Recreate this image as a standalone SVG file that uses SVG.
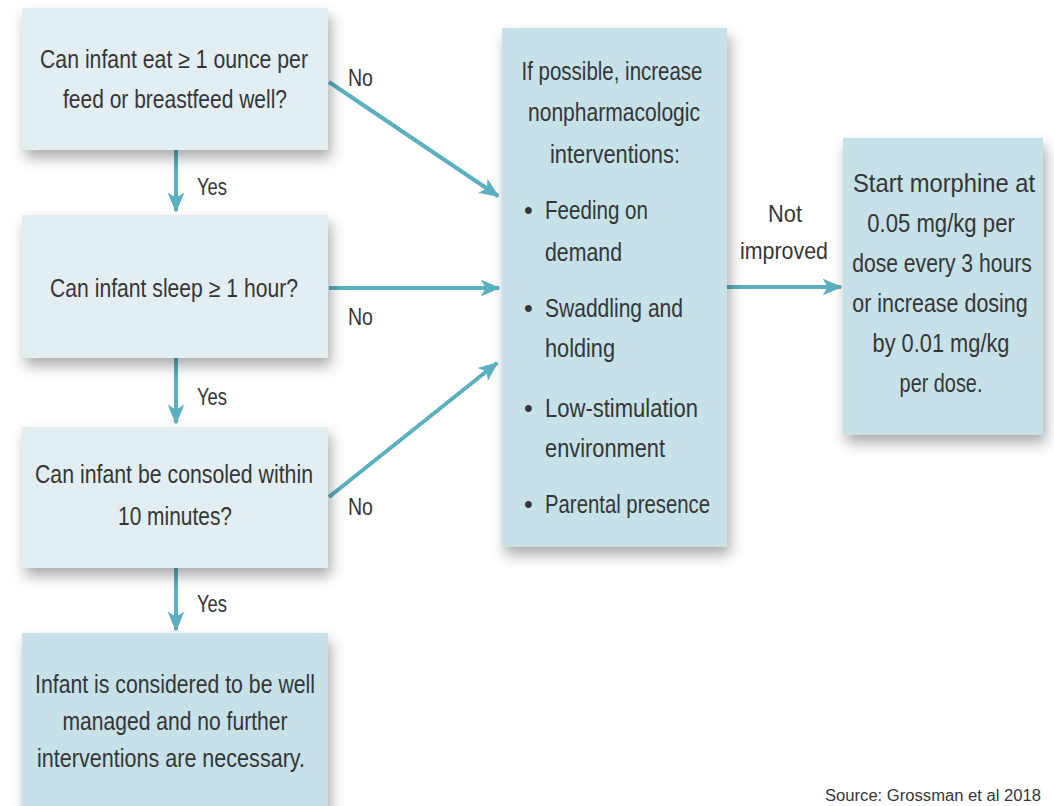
<svg xmlns="http://www.w3.org/2000/svg" width="1054" height="806" viewBox="0 0 1054 806">
<style>
text{font-family:"Liberation Sans",Arial,sans-serif;fill:#363636;font-size:25px}
.c{text-anchor:middle}
.light{fill:#e3eef2}
.dark{fill:#c6e1e8}
.ar{stroke:#5aafc0;stroke-width:4;fill:none}
.lbl{font-size:24px}
.src{font-size:16px}
</style>
<defs>
<filter id="sh" x="-20%" y="-20%" width="140%" height="150%">
<feDropShadow dx="3" dy="8" stdDeviation="7" flood-color="#000" flood-opacity="0.33"/>
</filter>
<marker id="ah" viewBox="0 0 12 10" refX="11" refY="5" markerWidth="5" markerHeight="5" markerUnits="strokeWidth" orient="auto">
<path d="M0,0 L12,5 L0,10 L3,5 z" fill="#5aafc0"/>
</marker>
</defs>
<rect width="1054" height="806" fill="#fff"/>
<g id="connectors">
<line class="ar" x1="176" y1="150" x2="176" y2="211" marker-end="url(#ah)"/>
<line class="ar" x1="176" y1="358" x2="176" y2="423" marker-end="url(#ah)"/>
<line class="ar" x1="176" y1="568" x2="176" y2="630" marker-end="url(#ah)"/>
<line class="ar" x1="329" y1="82" x2="498" y2="196" marker-end="url(#ah)"/>
<line class="ar" x1="329" y1="288" x2="499" y2="288" marker-end="url(#ah)"/>
<line class="ar" x1="329" y1="497" x2="497" y2="363" marker-end="url(#ah)"/>
<line class="ar" x1="727" y1="287" x2="841" y2="287" marker-end="url(#ah)"/>
<text class="lbl" x="197" y="195" textLength="30" lengthAdjust="spacingAndGlyphs">Yes</text>
<text class="lbl" x="197" y="405" textLength="30" lengthAdjust="spacingAndGlyphs">Yes</text>
<text class="lbl" x="197" y="612" textLength="30" lengthAdjust="spacingAndGlyphs">Yes</text>
<text class="lbl" x="348" y="86" textLength="25" lengthAdjust="spacingAndGlyphs">No</text>
<text class="lbl" x="348" y="325" textLength="25" lengthAdjust="spacingAndGlyphs">No</text>
<text class="lbl" x="348" y="515" textLength="25" lengthAdjust="spacingAndGlyphs">No</text>
<text class="lbl c" x="785" y="222" textLength="34" lengthAdjust="spacingAndGlyphs">Not</text>
<text class="lbl c" x="784" y="259" textLength="88" lengthAdjust="spacingAndGlyphs">improved</text>
</g>
<g id="n1">
<rect class="light" x="22" y="8" width="306" height="142" filter="url(#sh)"/>
<text class="c" x="174" y="68" textLength="268" lengthAdjust="spacingAndGlyphs">Can infant eat ≥ 1 ounce per</text>
<text class="c" x="175" y="108" textLength="224" lengthAdjust="spacingAndGlyphs">feed or breastfeed well?</text>
</g>
<g id="n2">
<rect class="light" x="22" y="215" width="306" height="143" filter="url(#sh)"/>
<text class="c" x="174" y="297" textLength="248" lengthAdjust="spacingAndGlyphs">Can infant sleep ≥ 1 hour?</text>
</g>
<g id="n3">
<rect class="light" x="22" y="427" width="306" height="141" filter="url(#sh)"/>
<text class="c" x="174" y="483" textLength="278" lengthAdjust="spacingAndGlyphs">Can infant be consoled within</text>
<text class="c" x="175" y="525" textLength="114" lengthAdjust="spacingAndGlyphs">10 minutes?</text>
</g>
<g id="n4">
<rect class="dark" x="22" y="633" width="306" height="190" filter="url(#sh)"/>
<text class="c" x="175" y="693" textLength="280" lengthAdjust="spacingAndGlyphs">Infant is considered to be well</text>
<text class="c" x="175" y="730" textLength="225" lengthAdjust="spacingAndGlyphs">managed and no further</text>
<text class="c" x="171" y="767" textLength="268" lengthAdjust="spacingAndGlyphs">interventions are necessary.</text>
</g>
<g id="n5">
<rect class="dark" x="502" y="28" width="225" height="519" filter="url(#sh)"/>
<text class="c" x="612" y="80" textLength="181" lengthAdjust="spacingAndGlyphs">If possible, increase</text>
<text class="c" x="614" y="121" textLength="172" lengthAdjust="spacingAndGlyphs">nonpharmacologic</text>
<text class="c" x="615" y="163" textLength="130" lengthAdjust="spacingAndGlyphs">interventions:</text>
<text x="524" y="219">•</text>
<text x="545" y="219" textLength="103" lengthAdjust="spacingAndGlyphs">Feeding on</text>
<text x="545" y="261" textLength="77" lengthAdjust="spacingAndGlyphs">demand</text>
<text x="524" y="317">•</text>
<text x="545" y="317" textLength="138" lengthAdjust="spacingAndGlyphs">Swaddling and</text>
<text x="545" y="357" textLength="70" lengthAdjust="spacingAndGlyphs">holding</text>
<text x="524" y="417">•</text>
<text x="545" y="417" textLength="153" lengthAdjust="spacingAndGlyphs">Low-stimulation</text>
<text x="545" y="457" textLength="120" lengthAdjust="spacingAndGlyphs">environment</text>
<text x="524" y="513">•</text>
<text x="545" y="513" textLength="165" lengthAdjust="spacingAndGlyphs">Parental presence</text>
</g>
<g id="n6">
<rect class="dark" x="843" y="138" width="200" height="297" filter="url(#sh)"/>
<g transform="translate(941,0) scale(0.82,1)">
<text class="c" x="3.7" y="192" textLength="222" lengthAdjust="spacingAndGlyphs">Start morphine at</text>
<text class="c" x="0" y="232" textLength="180" lengthAdjust="spacingAndGlyphs">0.05 mg/kg per</text>
<text class="c" x="1.2" y="272" textLength="219" lengthAdjust="spacingAndGlyphs">dose every 3 hours</text>
<text class="c" x="-1.2" y="312" textLength="214" lengthAdjust="spacingAndGlyphs">or increase dosing</text>
<text class="c" x="0" y="352" textLength="167" lengthAdjust="spacingAndGlyphs">by 0.01 mg/kg</text>
<text class="c" x="0" y="392" textLength="101" lengthAdjust="spacingAndGlyphs">per dose.</text>
</g>
</g>
<text class="src" x="825" y="801" textLength="216" lengthAdjust="spacingAndGlyphs">Source: Grossman et al 2018</text>
</svg>
